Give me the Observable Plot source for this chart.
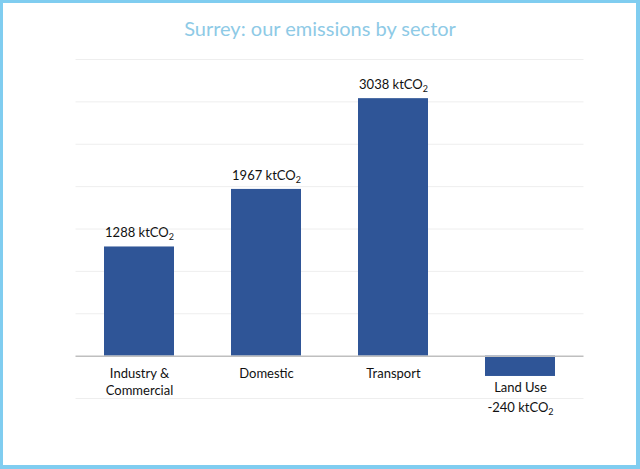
<!DOCTYPE html>
<html>
<head>
<meta charset="utf-8">
<script src="https://cdn.jsdelivr.net/npm/d3@7"></script>
<script src="https://cdn.jsdelivr.net/npm/@observablehq/plot@0.6"></script>
<style>
  html, body { margin: 0; padding: 0; background: #fff; }
  #page { position: relative; width: 640px; height: 469px; overflow: hidden; background: #fff; }
  #chart { position: absolute; left: 0; top: 0; width: 640px; }
  #chart svg { max-width: none; }
  #frame { position: absolute; left: 0; top: 0; width: 640px; height: 469px; box-sizing: border-box; border: 3px solid #80cdf0; border-right-width: 4px; border-bottom-width: 4px; pointer-events: none; }
  #title { position: absolute; left: 0; right: 0; top: 16px; text-align: center; font-family: Lato, "Open Sans", sans-serif; font-size: 20px; color: #8ecae6; }
</style>
</head>
<body>
<div id="page">
  <div id="chart"></div>
  <div id="title">Surrey: our emissions by sector</div>
  <div id="frame"></div>
</div>
<script>
const sectors = ["Industry &\nCommercial", "Domestic", "Transport", "Land Use"];
const emissions = [1288, 1967, 3038, -240];
const valueLabels = ["1288 ktCO₂", "1967 ktCO₂", "3038 ktCO₂", "-240 ktCO₂"];
const gridTicks = [-500, 0, 500, 1000, 1500, 2000, 2500, 3000, 3500];

const rows = sectors.map((s, i) => ({sector: s, value: emissions[i], label: valueLabels[i]}));
const pos = rows.filter(d => d.value >= 0);
const neg = rows.filter(d => d.value < 0);

const font = "Lato, 'Open Sans', sans-serif";

const plot = Plot.plot({
  width: 640,
  height: 469,
  marginTop: 59,
  marginBottom: 71,
  marginLeft: 75.5,
  marginRight: 56.5,
  style: {fontFamily: font, background: "transparent"},
  x: {domain: sectors, paddingInner: 0.45, paddingOuter: 0.225, axis: null},
  y: {domain: [-500, 3500], axis: null},
  marks: [
    Plot.ruleY(gridTicks.filter(t => t !== 0), {stroke: "#eeeeee", strokeWidth: 1}),
    Plot.barY(rows, {x: "sector", y: "value", fill: "#2f5597"}),
    Plot.ruleY([0], {stroke: "#bfbfbf", strokeWidth: 1.5}),
    Plot.text(pos, {x: "sector", y: "value", text: "label", dy: -14, fontSize: 13, fill: "#111"}),
    Plot.text(pos, {x: "sector", y: () => 0, text: "sector", dy: 10, lineAnchor: "top", lineHeight: 1.3, fontSize: 13, fill: "#111", textAnchor: "middle"}),
    Plot.text(neg, {x: "sector", y: "value", text: "sector", dy: 11, fontSize: 13, fill: "#111"}),
    Plot.text(neg, {x: "sector", y: "value", text: "label", dy: 31, fontSize: 13, fill: "#111"})
  ]
});

// render the subscript 2 as a real lowered, smaller "2"
const SVGNS = "http://www.w3.org/2000/svg";
plot.querySelectorAll("text, tspan").forEach(el => {
  Array.from(el.childNodes).forEach(node => {
    if (node.nodeType === 3 && node.nodeValue.includes("₂")) {
      const parts = node.nodeValue.split("₂");
      const frag = document.createDocumentFragment();
      parts.forEach((p, i) => {
        if (p) frag.appendChild(document.createTextNode(p));
        if (i < parts.length - 1) {
          const sub = document.createElementNS(SVGNS, "tspan");
          sub.setAttribute("font-size", "9");
          sub.setAttribute("dy", "3");
          sub.textContent = "2";
          frag.appendChild(sub);
        }
      });
      el.replaceChild(frag, node);
    }
  });
});

document.getElementById("chart").appendChild(plot);
</script>
</body>
</html>
